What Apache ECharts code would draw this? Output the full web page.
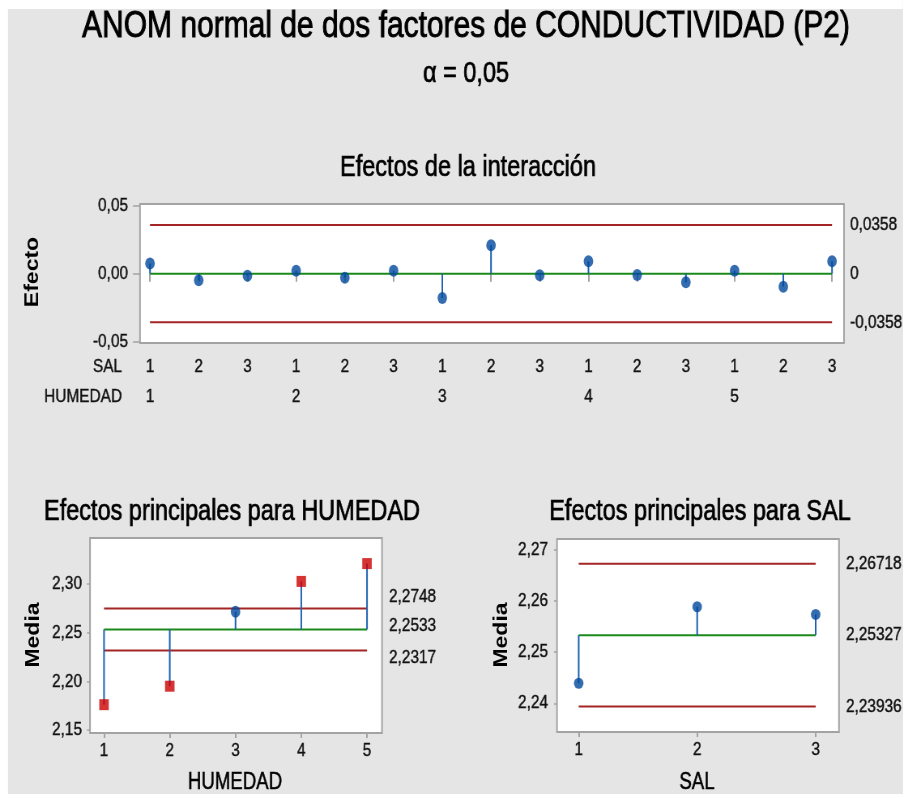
<!DOCTYPE html>
<html><head><meta charset="utf-8">
<script src="https://cdn.jsdelivr.net/npm/echarts@6/dist/echarts.min.js"></script>
<style>
html,body{margin:0;padding:0;background:#fff;overflow:hidden}
#wrap{width:903px;height:794px;overflow:hidden;position:relative}
#c{width:1115px;height:794px;transform:scaleX(0.81);transform-origin:0 0}
</style>
</head><body><div id="wrap"><div id="c"></div></div>
<script>
// ---- data ----
const salLevels = ['1', '2', '3'];
const humLevels = ['1', '2', '3', '4', '5'];
const interEffects = [0.0074, -0.0049, -0.0015, 0.0022, -0.0030, 0.0022, -0.0180, 0.0209, -0.0012, 0.0091, -0.0010, -0.0064, 0.0022, -0.0096, 0.0091];
const interCenter = 0;
const interLDL = -0.0358;
const interUDL = 0.0358;
const interTicks = [-0.05, 0, 0.05];

const humMeans = [2.176, 2.195, 2.2716, 2.3027, 2.321];
const humCenter = 2.2533;
const humLDL = 2.2317;
const humUDL = 2.2748;
const humTicks = [2.15, 2.20, 2.25, 2.30];

const salMeans = [2.2439, 2.2588, 2.2573];
const salCenter = 2.25327;
const salLDL = 2.23936;
const salUDL = 2.26718;
const salTicks = [2.24, 2.25, 2.26, 2.27];

// ---- layout: the chart is drawn horizontally condensed (narrow lettering like the original) ----
const S = 0.81;
const X = v => v / S;

const FONT = "'Liberation Sans', Arial, sans-serif";
const TXT = '#111';
const RED = '#a32525';
const GREEN = '#1b8a1b';
const BLUE = '#00489c';
const STEM = '#1c62b2';
const OUT = '#cc0000';
const BORDER = '#a3a3a3';
const ELLIPSE = 'path://M0,-1A1,1,0,1,1,0,1A1,1,0,1,1,0,-1Z';
const LBL = { fontSize: 19, fontFamily: FONT, color: TXT, textBorderColor: TXT, textBorderWidth: 0.4 };

const comma = v => String(v).replace('.', ',');
const fix2 = v => v.toFixed(2).replace('.', ',');

// interaction cells (HUMEDAD x SAL)
const cellSal = [], cellHum = [];
humLevels.forEach(h => salLevels.forEach(s => { cellSal.push(s); cellHum.push(h); }));
const cellPos = cellSal.map((_, i) => i + 1);
const humGroupPos = humLevels.map((_, i) => i * salLevels.length + 1);

function hLine(xi, yi, x0, x1, y, color) {
  return { type: 'line', xAxisIndex: xi, yAxisIndex: yi, data: [[x0, y], [x1, y]], symbol: 'none', silent: true,
    lineStyle: { color: color, width: 2 }, z: 2, animation: false };
}
function stems(xi, yi, vals, center) {
  return { type: 'custom', xAxisIndex: xi, yAxisIndex: yi, data: vals.map((v, i) => [i + 1, v]), z: 3, silent: true, animation: false,
    renderItem: (params, api) => {
      const a = api.coord([api.value(0), center]);
      const b = api.coord([api.value(0), api.value(1)]);
      return { type: 'line', shape: { x1: a[0], y1: a[1], x2: b[0], y2: b[1] }, style: { stroke: STEM, lineWidth: 2 } };
    } };
}
function markers(xi, yi, vals, ldl, udl, sizeC) {
  return { type: 'scatter', xAxisIndex: xi, yAxisIndex: yi, z: 4, silent: true, animation: false,
    data: vals.map((v, i) => {
      const out = v < ldl || v > udl;
      return { value: [i + 1, v], symbol: out ? 'rect' : ELLIPSE, symbolSize: out ? [X(9.5), 11] : sizeC,
        itemStyle: { color: out ? OUT : BLUE } };
    }) };
}
function xAx(gi, min, max, vals, labels, margin, tickLen, extra) {
  return Object.assign({ type: 'value', gridIndex: gi, min: min, max: max, position: 'bottom',
    axisLine: { show: false }, splitLine: { show: false },
    axisTick: { show: tickLen > 0, customValues: vals, length: tickLen, lineStyle: { color: BORDER, width: 2 } },
    axisLabel: Object.assign({ customValues: vals, formatter: v => labels[vals.indexOf(v)], margin: margin }, LBL) }, extra || {});
}
function yLeft(gi, min, max, vals, margin, tickLen) {
  return { type: 'value', gridIndex: gi, min: min, max: max, position: 'left',
    axisLine: { show: false }, splitLine: { show: false },
    axisTick: { show: true, customValues: vals, length: X(tickLen), lineStyle: { color: BORDER, width: 1.5 } },
    axisLabel: Object.assign({ customValues: vals, formatter: fix2, margin: X(margin) }, LBL) };
}
function yRight(gi, min, max, vals, margin, formatter, rich) {
  return { type: 'value', gridIndex: gi, min: min, max: max, position: 'right',
    axisLine: { show: false }, splitLine: { show: false }, axisTick: { show: false },
    axisLabel: Object.assign({ customValues: vals, formatter: formatter, margin: X(margin), rich: rich }, LBL) };
}

// right-hand labels of HUMEDAD panel are spread apart like the original
const richH = {
  up: Object.assign({ padding: [0, 0, 24, 0] }, LBL),
  mid: Object.assign({ padding: [0, 0, 7, 0] }, LBL),
  dn: Object.assign({ padding: [15, 0, 0, 0] }, LBL)
};
const fmtH = v => {
  const k = v === humUDL ? 'up' : (v === humCenter ? 'mid' : 'dn');
  return '{' + k + '|' + comma(v) + '}';
};

const gridStyle = { show: true, backgroundColor: '#fff', borderColor: BORDER, borderWidth: 2, outerBoundsMode: 'none', containLabel: false };

function txt(x, y, text, size, weight, extra, styleExtra) {
  return Object.assign({ type: 'text', x: X(x), y: y, silent: true,
    style: Object.assign({ text: text, align: 'center', verticalAlign: 'middle', fontSize: size, fontFamily: FONT,
      fill: '#000', stroke: '#000', lineWidth: weight }, styleExtra || {}) }, extra || {});
}

const option = {
  backgroundColor: '#e5e5e5',
  animation: false,
  grid: [
    Object.assign({ left: X(140), top: 204, width: X(704), height: 139 }, gridStyle),
    Object.assign({ left: X(90), top: 538, width: X(292), height: 195 }, gridStyle),
    Object.assign({ left: X(557), top: 539, width: X(282), height: 193 }, gridStyle)
  ],
  xAxis: [
    xAx(0, 0.795, 15.246, cellPos, cellSal, 14, 8),
    xAx(0, 0.795, 15.246, humGroupPos, humLevels, 14, 0, { offset: 30 }),
    xAx(1, 0.787, 5.228, humLevels.map((_, i) => i + 1), humLevels, 8, 5),
    xAx(2, 0.817, 3.197, salLevels.map((_, i) => i + 1), salLevels, 8, 5)
  ],
  yAxis: [
    yLeft(0, -0.051, 0.0512, interTicks, 12, 7),
    yRight(0, -0.051, 0.0512, [interLDL, interCenter, interUDL], 6, comma),
    yLeft(1, 2.1469, 2.3473, humTicks, 8, 3),
    yRight(1, 2.1469, 2.3473, [humLDL, humCenter, humUDL], 7, fmtH, richH),
    yLeft(2, 2.2344, 2.272, salTicks, 9, 3),
    yRight(2, 2.2344, 2.272, [salLDL, salCenter, salUDL], 7, comma)
  ],
  series: [
    hLine(0, 0, 1, cellPos.length, interUDL, RED),
    hLine(0, 0, 1, cellPos.length, interLDL, RED),
    hLine(0, 0, 1, cellPos.length, interCenter, GREEN),
    stems(0, 0, interEffects, interCenter),
    markers(0, 0, interEffects, interLDL, interUDL, [X(9.5), 12]),

    hLine(2, 2, 1, humLevels.length, humUDL, RED),
    hLine(2, 2, 1, humLevels.length, humLDL, RED),
    hLine(2, 2, 1, humLevels.length, humCenter, GREEN),
    stems(2, 2, humMeans, humCenter),
    markers(2, 2, humMeans, humLDL, humUDL, [X(9.5), 12]),

    hLine(3, 4, 1, salLevels.length, salUDL, RED),
    hLine(3, 4, 1, salLevels.length, salLDL, RED),
    hLine(3, 4, 1, salLevels.length, salCenter, GREEN),
    stems(3, 4, salMeans, salCenter),
    markers(3, 4, salMeans, salLDL, salUDL, [X(9.5), 11])
  ],
  graphic: [
    { type: 'rect', shape: { x: 0, y: 0, width: X(903), height: 9 }, style: { fill: '#fff' }, silent: true },
    { type: 'rect', shape: { x: 0, y: 0, width: X(8), height: 794 }, style: { fill: '#fff' }, silent: true },
    txt(466, 27, 'ANOM normal de dos factores de CONDUCTIVIDAD (P2)', 37, 0.9),
    txt(466, 74, 'α = 0,05', 29, 0.7),
    txt(468, 168, 'Efectos de la interacción', 29, 0.7),
    txt(232, 512, 'Efectos principales para HUMEDAD', 29, 0.7),
    txt(700, 512, 'Efectos principales para SAL', 29, 0.7),
    txt(33, 272, 'Efecto', 23, 0, { rotation: Math.PI / 2 }, { fontWeight: 'bold' }),
    txt(34, 635, 'Media', 23, 0, { rotation: Math.PI / 2 }, { fontWeight: 'bold' }),
    txt(502, 635, 'Media', 23, 0, { rotation: Math.PI / 2 }, { fontWeight: 'bold' }),
    txt(235, 783, 'HUMEDAD', 23, 0.5),
    txt(697, 783, 'SAL', 23, 0.5),
    txt(122, 367, 'SAL', 19, 0.4, null, { align: 'right', fill: TXT, stroke: TXT }),
    txt(122, 397, 'HUMEDAD', 19, 0.4, null, { align: 'right', fill: TXT, stroke: TXT })
  ]
};
const chart = echarts.init(document.getElementById('c'), null, { renderer: 'canvas' });
chart.setOption(option);
</script>
</body></html>
